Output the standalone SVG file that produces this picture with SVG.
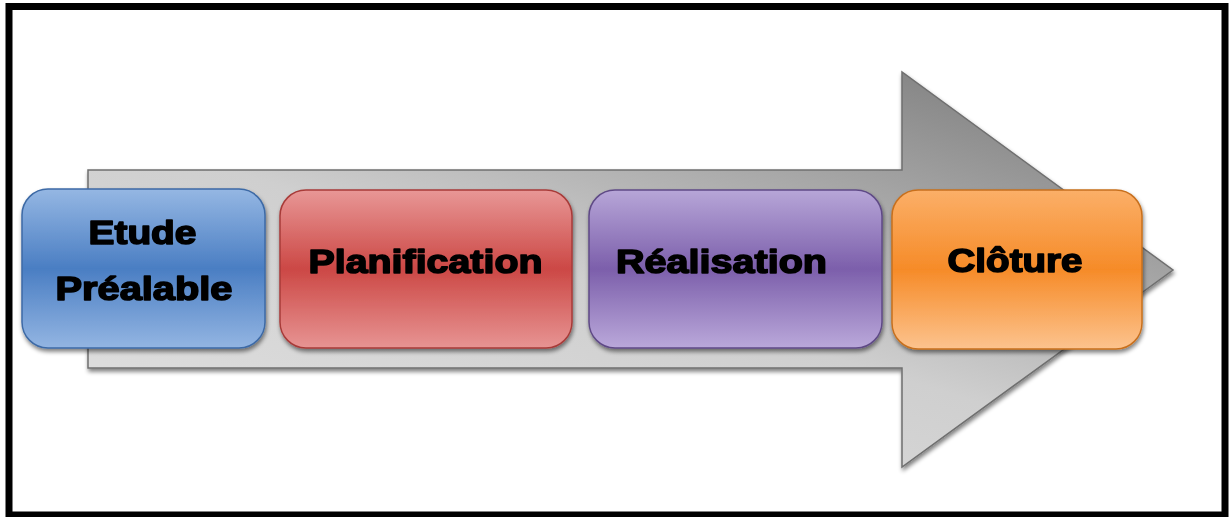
<svg xmlns="http://www.w3.org/2000/svg" width="1229" height="517" viewBox="0 0 1229 517">
<defs>
<style>
.lbl{font-family:"Liberation Sans",Arial,sans-serif;font-weight:bold;font-size:34px;fill:#000;stroke:#000;stroke-width:1.6;stroke-linejoin:round;text-anchor:middle}
</style>
<linearGradient id="gArrow" x1="0" y1="1" x2="0.85" y2="0">
<stop offset="0" stop-color="#e2e2e2"/>
<stop offset="0.5" stop-color="#cfcfcf"/>
<stop offset="1" stop-color="#7f7f7f"/>
</linearGradient>
<linearGradient id="gBlue" x1="0" y1="0" x2="0" y2="1">
<stop offset="0" stop-color="#95b7e3"/>
<stop offset="0.5" stop-color="#4a7ec3"/>
<stop offset="1" stop-color="#93b5e2"/>
</linearGradient>
<linearGradient id="gRed" x1="0" y1="0" x2="0" y2="1">
<stop offset="0" stop-color="#e89796"/>
<stop offset="0.5" stop-color="#cc4845"/>
<stop offset="1" stop-color="#e79493"/>
</linearGradient>
<linearGradient id="gPurple" x1="0" y1="0" x2="0" y2="1">
<stop offset="0" stop-color="#b7a6d8"/>
<stop offset="0.5" stop-color="#7c5fab"/>
<stop offset="1" stop-color="#baa8da"/>
</linearGradient>
<linearGradient id="gOrange" x1="0" y1="0" x2="0" y2="1">
<stop offset="0" stop-color="#fbaf68"/>
<stop offset="0.5" stop-color="#f68b28"/>
<stop offset="1" stop-color="#fcc38e"/>
</linearGradient>
<filter id="shadow" x="-10%" y="-10%" width="120%" height="130%">
<feGaussianBlur in="SourceAlpha" stdDeviation="2"/>
<feOffset dx="1" dy="3" result="b"/>
<feComponentTransfer><feFuncA type="linear" slope="0.5"/></feComponentTransfer>
<feMerge><feMergeNode/><feMergeNode in="SourceGraphic"/></feMerge>
</filter>
</defs>
<rect x="0" y="0" width="1229" height="517" fill="#fff"/>
<rect x="9" y="6.5" width="1216" height="508.5" fill="#fff" stroke="#000" stroke-width="7"/>
<g id="connectors">
<polygon id="arrow" points="88,170 902,170 902,72 1173,270 902,467 902,368 88,368" fill="url(#gArrow)" stroke="#6f6f6f" stroke-width="1.5" filter="url(#shadow)"/>
</g>
<g id="node-etude" filter="url(#shadow)">
<rect x="22" y="189" width="243" height="159" rx="26" fill="url(#gBlue)" stroke="#3d6aa6" stroke-width="1.5"/>
<text class="lbl" x="142.5" y="244" textLength="108" lengthAdjust="spacingAndGlyphs">Etude</text>
<text class="lbl" x="144" y="300" textLength="177" lengthAdjust="spacingAndGlyphs">Préalable</text>
</g>
<g id="node-planification" filter="url(#shadow)">
<rect x="280" y="190" width="292" height="158" rx="26" fill="url(#gRed)" stroke="#a83b39" stroke-width="1.5"/>
<text class="lbl" x="425.5" y="273" textLength="234" lengthAdjust="spacingAndGlyphs">Planification</text>
</g>
<g id="node-realisation" filter="url(#shadow)">
<rect x="589" y="190" width="293" height="158" rx="26" fill="url(#gPurple)" stroke="#5f4a86" stroke-width="1.5"/>
<text class="lbl" x="721.5" y="273" textLength="211" lengthAdjust="spacingAndGlyphs">Réalisation</text>
</g>
<g id="node-cloture" filter="url(#shadow)">
<rect x="892" y="190" width="250" height="159" rx="26" fill="url(#gOrange)" stroke="#c8701e" stroke-width="1.5"/>
<text class="lbl" x="1015" y="272" textLength="135" lengthAdjust="spacingAndGlyphs">Clôture</text>
</g>
</svg>
